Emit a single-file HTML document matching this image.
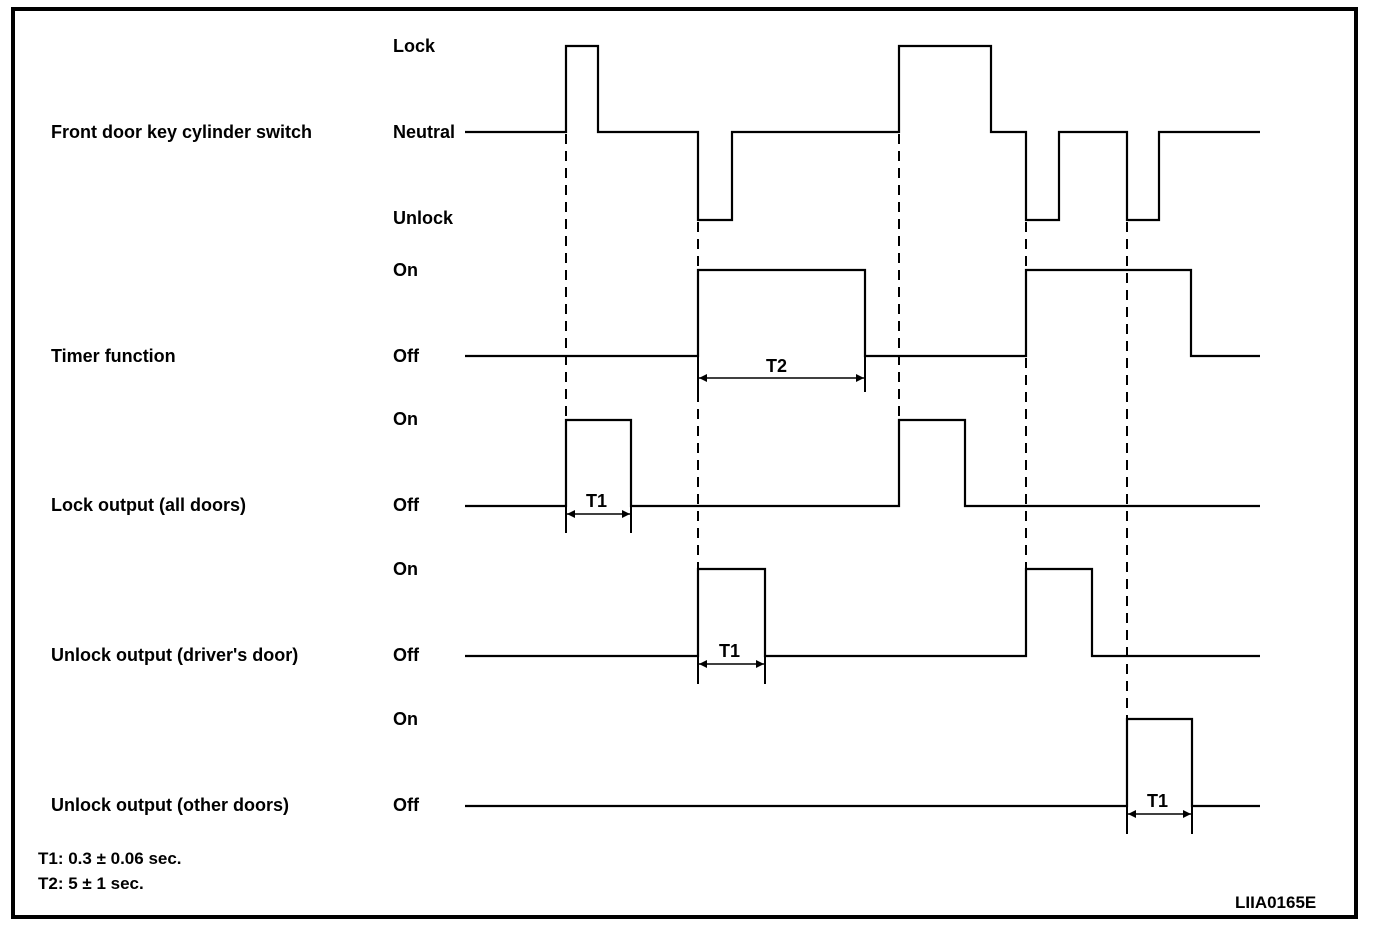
<!DOCTYPE html>
<html><head><meta charset="utf-8"><style>
html,body{margin:0;padding:0;background:#fff;}
svg{display:block;}
text{font-family:"Liberation Sans",sans-serif;font-size:18px;font-weight:bold;fill:#000;}
</style></head><body>
<svg width="1392" height="940" viewBox="0 0 1392 940" xmlns="http://www.w3.org/2000/svg">
<defs>
<marker id="a" viewBox="0 0 10 10" refX="10" refY="5" markerWidth="10" markerHeight="8" markerUnits="userSpaceOnUse" orient="auto-start-reverse"><path d="M0,0L10,5L0,10z" fill="#000"/></marker>
</defs>
<rect x="13" y="9" width="1343" height="908" fill="none" stroke="#000" stroke-width="4"/>
<g fill="none" stroke="#000" stroke-width="2.2">
<path d="M465,132H566V46H598V132H698V220H732V132H899V46H991V132H1026V220H1059V132H1127V220H1159V132H1260"/>
<path d="M465,356H698V270H865V356H1026V270H1191V356H1260"/>
<path d="M465,506H566V420H631V506H899V420H965V506H1260"/>
<path d="M465,656H698V569H765V656H1026V569H1092V656H1260"/>
<path d="M465,806H1127V719H1192V806H1260"/>
</g>
<g stroke="#000" stroke-width="2" stroke-dasharray="10,7">
<line x1="566" y1="134" x2="566" y2="420"/>
<line x1="698" y1="222" x2="698" y2="569"/>
<line x1="899" y1="134" x2="899" y2="420"/>
<line x1="1026" y1="222" x2="1026" y2="569"/>
<line x1="1127" y1="222" x2="1127" y2="719"/>
</g>
<g stroke="#000" stroke-width="2">
<line x1="566" y1="506" x2="566" y2="533"/><line x1="631" y1="506" x2="631" y2="533"/>
<line x1="865" y1="356" x2="865" y2="392"/><line x1="698" y1="356" x2="698" y2="392"/>
<line x1="698" y1="656" x2="698" y2="684"/><line x1="765" y1="656" x2="765" y2="684"/>
<line x1="1127" y1="806" x2="1127" y2="834"/><line x1="1192" y1="806" x2="1192" y2="834"/>
</g>
<g stroke="#000" stroke-width="1.5" marker-start="url(#a)" marker-end="url(#a)">
<line x1="567" y1="514" x2="630" y2="514"/>
<line x1="699" y1="378" x2="864" y2="378"/>
<line x1="699" y1="664" x2="764" y2="664"/>
<line x1="1128" y1="814" x2="1191" y2="814"/>
</g>
<text x="586" y="507">T1</text>
<text x="766" y="372">T2</text>
<text x="719" y="657">T1</text>
<text x="1147" y="807">T1</text>
<text x="393" y="52">Lock</text>
<text x="393" y="138">Neutral</text>
<text x="393" y="224">Unlock</text>
<text x="393" y="276">On</text>
<text x="393" y="362">Off</text>
<text x="393" y="425">On</text>
<text x="393" y="511">Off</text>
<text x="393" y="575">On</text>
<text x="393" y="661">Off</text>
<text x="393" y="725">On</text>
<text x="393" y="811">Off</text>
<text x="51" y="138">Front door key cylinder switch</text>
<text x="51" y="362">Timer function</text>
<text x="51" y="511">Lock output (all doors)</text>
<text x="51" y="661">Unlock output (driver's door)</text>
<text x="51" y="811">Unlock output (other doors)</text>
<text x="38" y="864" style="font-size:17px">T1: 0.3 ± 0.06 sec.</text>
<text x="38" y="889" style="font-size:17px">T2: 5 ± 1 sec.</text>
<text x="1235" y="908" style="font-size:17px">LIIA0165E</text>
</svg>
</body></html>
